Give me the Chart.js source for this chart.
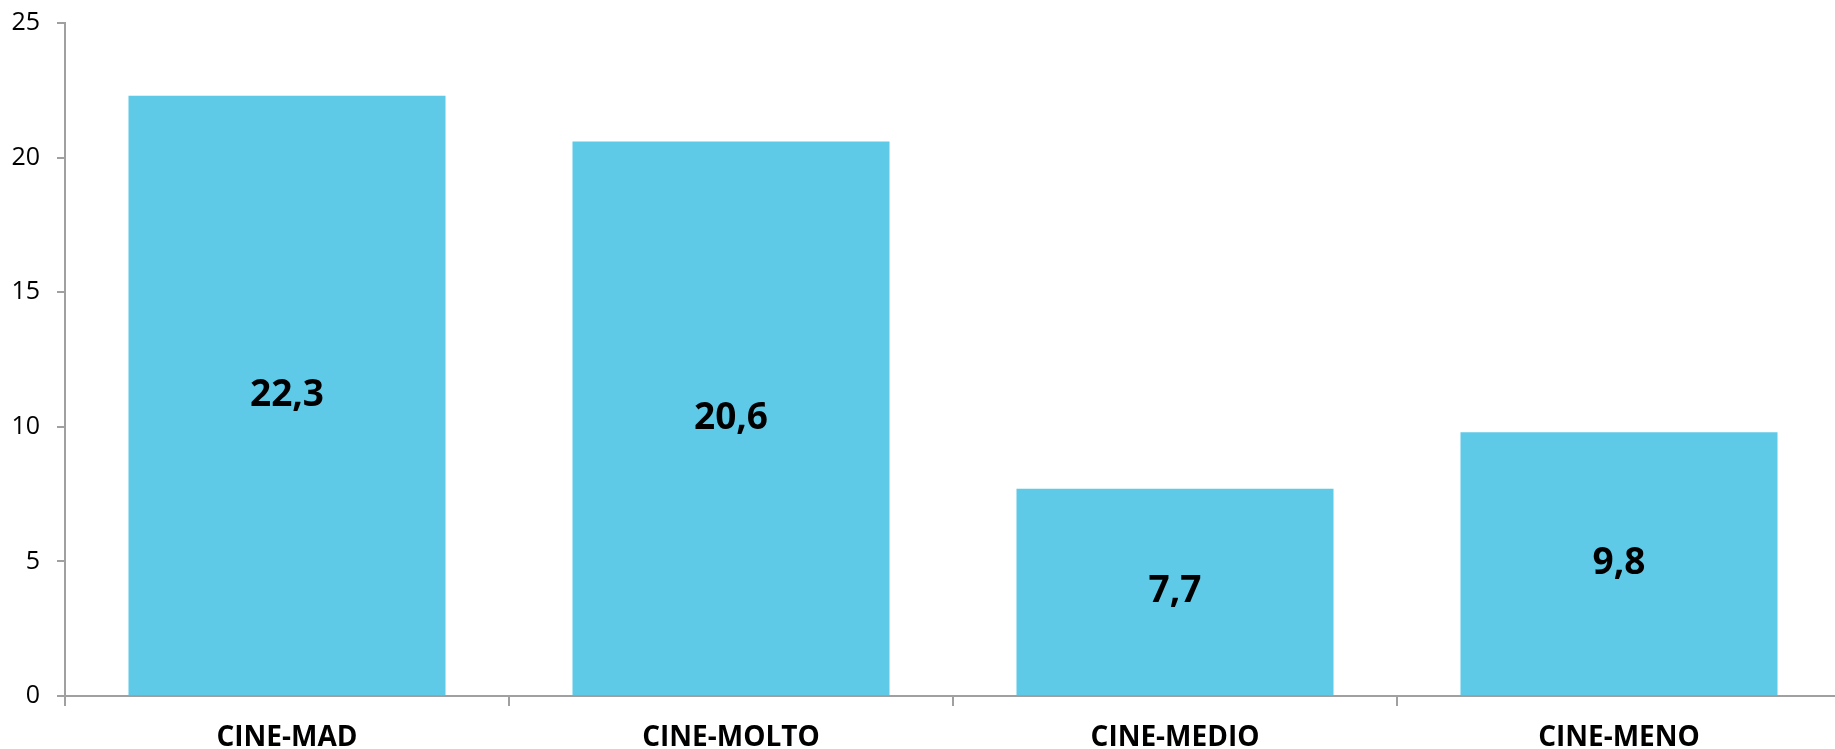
<!DOCTYPE html>
<html>
<head>
<meta charset="utf-8">
<script src="https://cdn.jsdelivr.net/npm/chart.js@4"></script>
<style>
  html, body { margin: 0; padding: 0; overflow: hidden; background: #fff; }
  #wrap { width: 1841px; height: 749px; }
</style>
</head>
<body>
<div id="wrap"><canvas id="chart" width="1841" height="749"></canvas></div>
<script>
// chart data
const categories = ['CINE-MAD', 'CINE-MOLTO', 'CINE-MEDIO', 'CINE-MENO'];
const values = [22.3, 20.6, 7.7, 9.8];
const yTicks = [0, 5, 10, 15, 20, 25];

const barColor = '#5ECAE8';
const axisColor = '#A0A0A0';

// draws the value in the middle of each bar, with a decimal comma
const barLabels = {
    id: 'barLabels',
    afterDatasetsDraw(chart) {
        const ctx = chart.ctx;
        const meta = chart.getDatasetMeta(0);
        ctx.save();
        ctx.font = 'bold 37px "Open Sans"';
        ctx.fillStyle = '#000';
        ctx.textAlign = 'center';
        ctx.textBaseline = 'middle';
        meta.data.forEach((bar, i) => {
            const txt = values[i].toFixed(1).replace('.', ',');
            ctx.fillText(txt, bar.x, (bar.y + bar.base) / 2);
        });
        ctx.restore();
    }
};

new Chart(document.getElementById('chart'), {
    type: 'bar',
    data: {
        labels: categories,
        datasets: [{
            data: values,
            backgroundColor: barColor,
            borderWidth: 0,
            barPercentage: 0.714,
            categoryPercentage: 1
        }]
    },
    options: {
        responsive: false,
        animation: false,
        layout: { padding: { top: 23, right: 0, left: 0, bottom: 0 } },
        plugins: {
            legend: { display: false },
            tooltip: { enabled: false }
        },
        scales: {
            x: {
                afterFit(scale) { scale.height = 53; },
                grid: {
                    offset: true,
                    drawOnChartArea: false,
                    tickLength: 10,
                    color: axisColor,
                    lineWidth: 2
                },
                border: { color: axisColor, width: 2 },
                ticks: {
                    color: '#000',
                    padding: 15,
                    font: { family: '"Open Sans"', size: 28, weight: 'bold' }
                }
            },
            y: {
                min: 0,
                max: 25,
                afterFit(scale) {
                    scale.width = 65;
                    scale.paddingTop = 0;
                    scale.paddingBottom = 0;
                },
                afterBuildTicks(scale) { scale.ticks = yTicks.map(v => ({ value: v })); },
                grid: {
                    drawOnChartArea: false,
                    tickLength: 8,
                    color: axisColor,
                    lineWidth: 2
                },
                border: { color: axisColor, width: 2 },
                ticks: {
                    color: '#000',
                    padding: 17,
                    font: { family: '"Open Sans"', size: 25 }
                }
            }
        }
    },
    plugins: [barLabels]
});
</script>
</body>
</html>
